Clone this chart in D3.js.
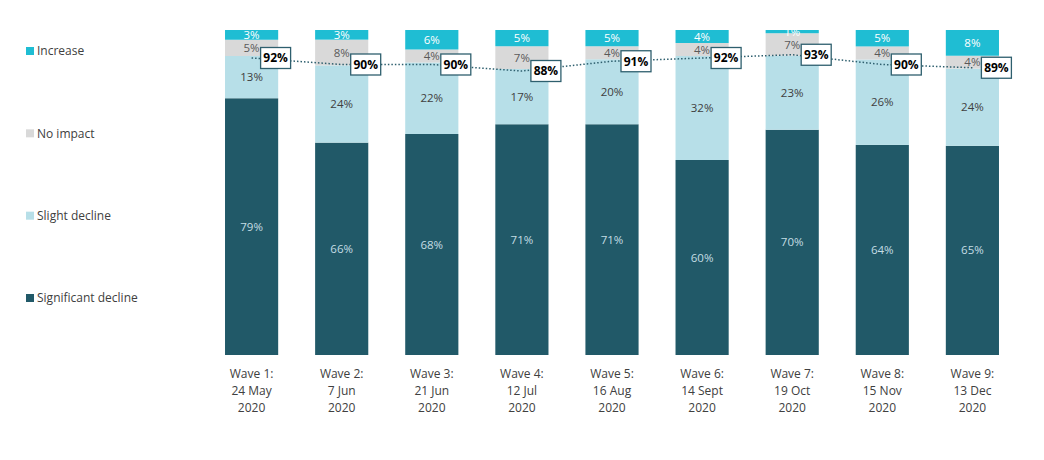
<!DOCTYPE html>
<html>
<head>
<meta charset="utf-8">
<script src="https://cdn.jsdelivr.net/npm/d3@7"></script>
<style>
  body { margin: 0; background: #fff; }
  svg { font-family: "Open Sans", sans-serif; }
</style>
</head>
<body>
<svg id="chart" width="1044" height="460"></svg>
<script>
// waves (x categories), three-line tick labels
var waves = ["w1", "w2", "w3", "w4", "w5", "w6", "w7", "w8", "w9"];
var waveLabels = [
  ["Wave 1:", "24 May", "2020"],
  ["Wave 2:", "7 Jun", "2020"],
  ["Wave 3:", "21 Jun", "2020"],
  ["Wave 4:", "12 Jul", "2020"],
  ["Wave 5:", "16 Aug", "2020"],
  ["Wave 6:", "14 Sept", "2020"],
  ["Wave 7:", "19 Oct", "2020"],
  ["Wave 8:", "15 Nov", "2020"],
  ["Wave 9:", "13 Dec", "2020"]
];

// series values (%)
var significantDecline = [79, 66, 68, 71, 71, 60, 70, 64, 65];
var slightDecline      = [13, 24, 22, 17, 20, 32, 23, 26, 24];
var noImpact           = [5, 8, 4, 7, 4, 4, 7, 4, 4];
var increase           = [3, 3, 6, 5, 5, 4, 1, 5, 8];
var netDecline         = [92, 90, 90, 88, 91, 92, 93, 90, 89];

var series = [
  { key: "sig",  name: "Significant decline", values: significantDecline, color: "#215968", text: "#c4dde4" },
  { key: "sl",   name: "Slight decline",      values: slightDecline,      color: "#b7dfe8", text: "#404040" },
  { key: "none", name: "No impact",           values: noImpact,           color: "#d9d9d9", text: "#595959" },
  { key: "inc",  name: "Increase",            values: increase,           color: "#1fbdd3", text: "#ffffff" }
];

var svg = d3.select("#chart");

var rows = waves.map(function(w, i) {
  var r = { wave: w };
  series.forEach(function(s) { r[s.key] = s.values[i]; });
  return r;
});

var stacked = d3.stack()
  .keys(series.map(function(s) { return s.key; }))
  .offset(d3.stackOffsetExpand)(rows);

var x = d3.scaleBand()
  .domain(waves)
  .range([207, 1017])
  .paddingInner(0.41)
  .paddingOuter(0.2);

var y = d3.scaleLinear()
  .domain([0, 1])
  .range([355, 30]);

// bars
var layers = svg.append("g")
  .selectAll("g")
  .data(stacked)
  .join("g")
  .attr("fill", function(d, i) { return series[i].color; });

layers.selectAll("rect")
  .data(function(d) { return d; })
  .join("rect")
  .attr("x", function(d) { return x(d.data.wave); })
  .attr("width", x.bandwidth())
  .attr("y", function(d) { return y(d[1]); })
  .attr("height", function(d) { return y(d[0]) - y(d[1]); });

// segment labels
stacked.forEach(function(layer, li) {
  var s = series[li];
  svg.append("g")
    .selectAll("text")
    .data(layer)
    .join("text")
    .attr("x", function(d) { return x(d.data.wave) + x.bandwidth() / 2; })
    .attr("y", function(d) { return (y(d[0]) + y(d[1])) / 2; })
    .attr("dy", "0.35em")
    .attr("text-anchor", "middle")
    .attr("font-size", 11.5)
    .attr("fill", s.text)
    .text(function(d, i) { return s.values[i] + "%"; });
});

// net decline line
var lineY = d3.scaleLinear().domain([0, 100]).range([357, 32]);
var pts = waves.map(function(w, i) {
  return [x(w) + x.bandwidth() / 2, lineY(netDecline[i])];
});

svg.append("path")
  .attr("d", d3.line()(pts))
  .attr("fill", "none")
  .attr("stroke", "#2e5f6e")
  .attr("stroke-width", 1.5)
  .attr("stroke-dasharray", "1.5,2");

var boxes = svg.append("g")
  .selectAll("g")
  .data(pts)
  .join("g")
  .attr("transform", function(d) { return "translate(" + (d[0] + 24) + "," + d[1] + ")"; });

boxes.append("rect")
  .attr("x", -15)
  .attr("y", -10.5)
  .attr("width", 30)
  .attr("height", 21)
  .attr("fill", "#fff")
  .attr("stroke", "#2e5f6e")
  .attr("stroke-width", 1.3);

boxes.append("text")
  .attr("text-anchor", "middle")
  .attr("dy", "0.36em")
  .attr("font-size", 12)
  .attr("font-weight", "bold")
  .attr("fill", "#000")
  .text(function(d, i) { return netDecline[i] + "%"; });

// x labels
var xAxis = svg.append("g");
waves.forEach(function(w, i) {
  var t = xAxis.append("text")
    .attr("x", x(w) + x.bandwidth() / 2)
    .attr("y", 378)
    .attr("text-anchor", "middle")
    .attr("font-size", 12)
    .attr("fill", "#404040");
  waveLabels[i].forEach(function(line, j) {
    t.append("tspan")
      .attr("x", x(w) + x.bandwidth() / 2)
      .attr("dy", j === 0 ? 0 : 17)
      .text(line);
  });
});

// legend (top to bottom: Increase ... Significant decline)
var legendItems = series.slice().reverse();
var legendY = d3.scalePoint()
  .domain(legendItems.map(function(s) { return s.key; }))
  .range([51, 298]);

var legend = svg.append("g")
  .selectAll("g")
  .data(legendItems)
  .join("g")
  .attr("transform", function(d) { return "translate(26," + legendY(d.key) + ")"; });

legend.append("rect")
  .attr("x", 0)
  .attr("y", -4)
  .attr("width", 8)
  .attr("height", 8)
  .attr("fill", function(d) { return d.color; });

legend.append("text")
  .attr("x", 11)
  .attr("dy", "0.35em")
  .attr("font-size", 12)
  .attr("fill", "#404040")
  .text(function(d) { return d.name; });
</script>
</body>
</html>
